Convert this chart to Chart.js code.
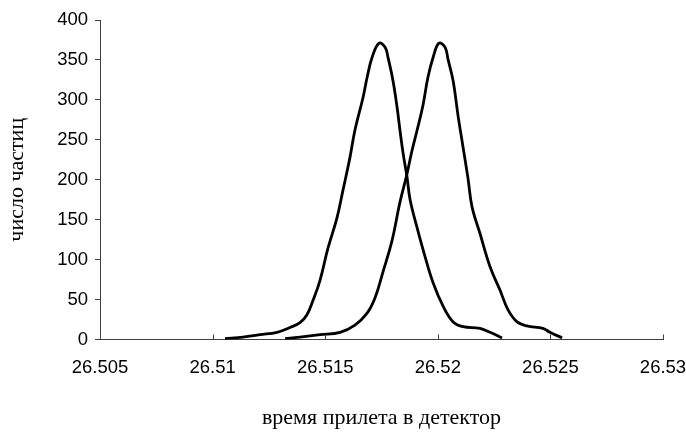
<!DOCTYPE html>
<html>
<head>
<meta charset="utf-8">
<title>время прилета в детектор</title>
<script src="https://cdn.jsdelivr.net/npm/chart.js"></script>
<style>
  body { margin: 0; background: #fff; }
  canvas { display: block; }
</style>
</head>
<body>
<canvas id="flightChart" width="686" height="432"></canvas>
<script>
// arrival times and particle counts
const timesA = [26.51055, 26.51135, 26.5121, 26.51286, 26.51344, 26.51388, 26.51419, 26.51446,
  26.51477, 26.51512, 26.51552, 26.51579, 26.5161, 26.51632, 26.51668, 26.51686, 26.51708,
  26.51739, 26.51766, 26.51779, 26.51801, 26.51819, 26.51832, 26.51846, 26.51863, 26.51877,
  26.51908, 26.51943, 26.51979, 26.52023, 26.52068, 26.52112, 26.52187, 26.52232, 26.52285];
const countsA = [1, 3, 6, 9, 15, 21, 31, 49,
  74, 114, 152, 187, 228, 262, 303, 328, 353,
  371, 366, 353, 324, 291, 262, 233, 204, 175,
  140, 104, 71, 42, 22, 16, 14, 9, 2];

const timesB = [26.51322, 26.51388, 26.51477, 26.51566, 26.51632, 26.51686, 26.51721, 26.51757,
  26.51797, 26.51832, 26.51863, 26.51885, 26.51908, 26.51934, 26.51956, 26.51979, 26.52005,
  26.52032, 26.52046, 26.52068, 26.5209, 26.52112, 26.52134, 26.52152, 26.52187, 26.52232,
  26.52276, 26.52312, 26.52352, 26.52396, 26.52467, 26.52498, 26.52552];
const countsB = [1, 3, 6, 9, 18, 33, 52, 85,
  124, 172, 207, 236, 262, 293, 328, 353, 371,
  366, 350, 324, 280, 241, 202, 166, 133, 91,
  62, 37, 22, 17, 14, 9, 2];

const xTickValues = [26.505, 26.51, 26.515, 26.52, 26.525, 26.53];
const yTickValues = [0, 50, 100, 150, 200, 250, 300, 350, 400];

const xTitle = 'время прилета в детектор';
const yTitle = 'число частиц';

function toPoints(xs, ys) {
  return xs.map((x, i) => ({ x: x, y: ys[i] }));
}

// x ticks in the original point up into the plot, Chart.js draws them outward,
// so they are drawn here from the scale instead
const innerTicks = {
  id: 'innerTicks',
  afterDraw(chart) {
    const xScale = chart.scales.x;
    const ctx = chart.ctx;
    const bottom = chart.chartArea.bottom;
    ctx.save();
    ctx.strokeStyle = '#404040';
    ctx.lineWidth = 1;
    xTickValues.forEach((v) => {
      const px = Math.round(xScale.getPixelForValue(v)) + 0.5;
      ctx.beginPath();
      ctx.moveTo(px, bottom);
      ctx.lineTo(px, bottom - 5);
      ctx.stroke();
    });
    ctx.restore();
  },
};

const lineStyle = {
  showLine: true,
  borderColor: '#000000',
  borderWidth: 2.8,
  pointRadius: 0,
  fill: false,
  tension: 0.4,
};

new Chart(document.getElementById('flightChart'), {
  type: 'scatter',
  data: {
    datasets: [
      Object.assign({ label: 'A', data: toPoints(timesA, countsA) }, lineStyle),
      Object.assign({ label: 'B', data: toPoints(timesB, countsB) }, lineStyle),
    ],
  },
  options: {
    responsive: false,
    animation: false,
    devicePixelRatio: 1,
    layout: { padding: { top: 20, right: 23, left: 0, bottom: 0 } },
    plugins: {
      legend: { display: false },
      tooltip: { enabled: false },
    },
    scales: {
      x: {
        type: 'linear',
        min: 26.505,
        max: 26.53,
        afterBuildTicks: (scale) => {
          scale.ticks = xTickValues.map((v) => ({ value: v }));
        },
        afterFit: (scale) => {
          scale.height = 92.5;
          scale.paddingLeft = 0;
          scale.paddingRight = 0;
        },
        ticks: {
          color: '#000',
          padding: 17,
          maxRotation: 0,
          font: { family: '"Liberation Sans", Arial, sans-serif', size: 18.5 },
          callback: (v) => String(Number(v.toFixed(3))),
        },
        grid: { drawOnChartArea: false, drawTicks: false },
        border: { color: '#404040', width: 1 },
        title: {
          display: true,
          text: xTitle,
          color: '#000',
          font: { family: '"Liberation Serif", "Times New Roman", serif', size: 22 },
          padding: { top: 0, bottom: 1 },
        },
      },
      y: {
        min: 0,
        max: 400,
        afterBuildTicks: (scale) => {
          scale.ticks = yTickValues.map((v) => ({ value: v }));
        },
        afterFit: (scale) => { scale.width = 100; },
        ticks: {
          color: '#000',
          padding: 7,
          font: { family: '"Liberation Sans", Arial, sans-serif', size: 18.5 },
        },
        grid: { drawOnChartArea: false, drawTicks: true, tickLength: 5, color: '#404040' },
        border: { color: '#404040', width: 1 },
        title: {
          display: true,
          text: yTitle,
          color: '#000',
          font: { family: '"Liberation Serif", "Times New Roman", serif', size: 22 },
          padding: { top: 4, bottom: 0 },
        },
      },
    },
  },
  plugins: [innerTicks],
});
</script>
</body>
</html>
